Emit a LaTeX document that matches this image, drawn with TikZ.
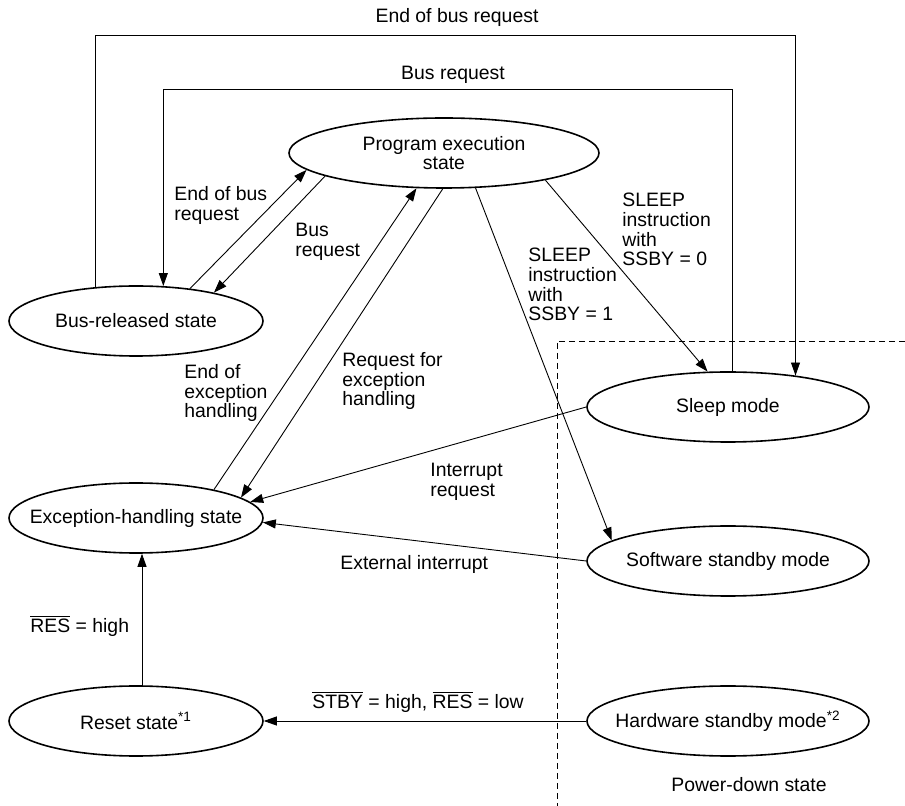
\documentclass[tikz,border=0pt]{standalone}
\usepackage{fontspec}
\setmainfont{Liberation Sans}
\usetikzlibrary{shapes.geometric,arrows.meta}

\begin{document}
\begin{tikzpicture}[x=0.5pt,y=-0.5pt,
  font=\fontsize{9.7}{9.8}\selectfont,
  state/.style={draw,ellipse,line width=0.8pt,inner ysep=0pt,inner xsep=-25pt,minimum height=35pt,align=center},
  wide/.style={state,minimum width=127pt},
  mode/.style={state,minimum width=141pt},
  link/.style={line width=0.45pt,-{Triangle[length=6.5pt,width=4.5pt]}},
  lbl/.style={inner sep=0pt,anchor=north west,align=left}]
  \useasboundingbox (0,0) rectangle (905,806);

  % States
  \node[state,minimum width=155pt] (prog) at (444,153) {Program execution\\state};
  \node[wide] (bus) at (136,321) {Bus-released state};
  \node[wide] (exc) at (136,518) {Exception-handling state};
  \node[wide] (reset) at (136,721) {Reset state\textsuperscript{*1}};
  \node[mode] (sleep) at (728,407) {Sleep mode};
  \node[mode] (swsb) at (728,561) {Software standby mode};
  \node[mode] (hwsb) at (728,721) {Hardware standby mode\textsuperscript{*2}};

  % Power-down frame
  \draw[dash pattern=on 3pt off 2pt,line width=0.4pt] (905,341) -| (557,806);
  \node (pd) at (749,785) {Power-down state};

  % Bus loops over the top
  \coordinate (outer) at (0,35);
  \coordinate (inner) at (0,89);
  \draw[link] (bus.140) -- (bus.140 |- outer) -| (sleep.25);
  \draw[link] (sleep.83) -- (sleep.83 |- inner) -| (bus.52);
  \node at (457,17) {End of bus request};
  \node at (453,75) {Bus request};

  % Bus-released <-> program execution
  \draw[link] (bus.31) -- (prog.187);
  \draw[link] (prog.191) -- (bus.20);
  \node[lbl] at (174,186) {End of bus\\request};
  \node[lbl] at (295,223) {Bus\\request};

  % Exception handling <-> program execution
  \draw[link] (exc.20) -- (prog.232);
  \draw[link] (prog.268) -- (exc.11);
  \node[lbl] at (184,364) {End of\\exception\\handling};
  \node[lbl] at (342,352) {Request for\\exception\\handling};

  % SLEEP instruction
  \draw[link] (prog.345) -- (sleep.120);
  \draw[link] (prog.312) -- (swsb.170);
  \node[lbl] at (622,193) {SLEEP\\instruction\\with\\SSBY = 0};
  \node[lbl] at (528,248) {SLEEP\\instruction\\with\\SSBY = 1};

  % Interrupts
  \draw[link] (sleep.west) -- (exc.8);
  \draw[link] (swsb.west) -- (exc.358);
  \node[lbl] at (430,463) {Interrupt\\request};
  \node[lbl] at (340,555) {External interrupt};

  % Reset
  \draw[link] ([xshift=3pt]reset.north) -- ([xshift=3pt]exc.south);
  \draw[link] (hwsb.west) -- (reset.east);
  \node[lbl] at (30,615) {$\overline{\mbox{RES}}$ = high};
  \node[lbl] at (312,691) {$\overline{\mbox{STBY}}$ = high, $\overline{\mbox{RES}}$ = low};
\end{tikzpicture}
\end{document}
